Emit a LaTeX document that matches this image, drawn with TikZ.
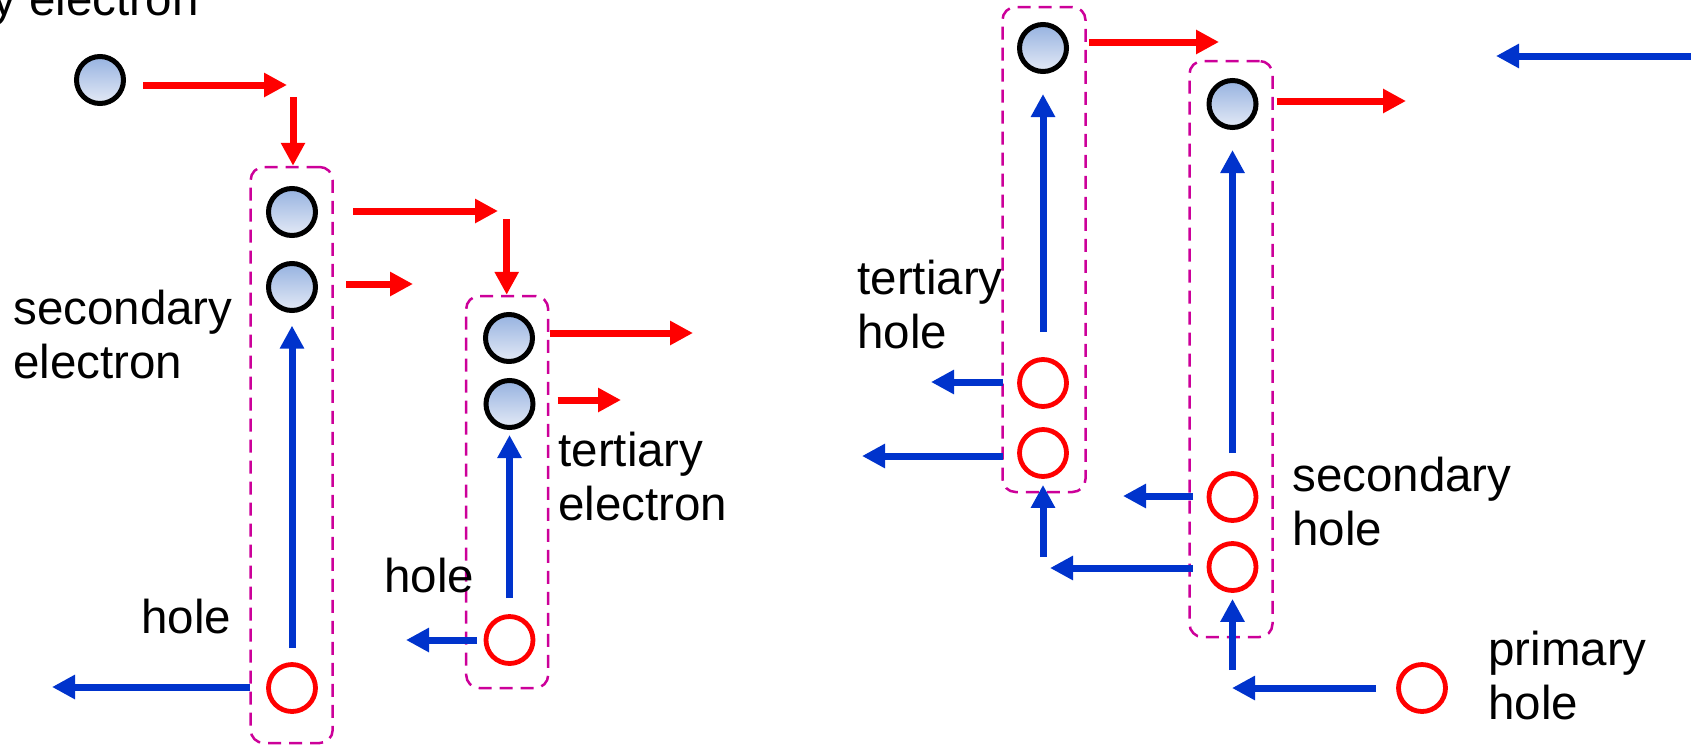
\documentclass[tikz,border=0pt]{standalone}
\usepackage{fontspec}
\setmainfont{Liberation Sans}
\usetikzlibrary{arrows.meta}
\definecolor{ered}{RGB}{255,0,0}
\definecolor{hblue}{RGB}{0,51,204}
\definecolor{boxmag}{RGB}{204,0,153}
\definecolor{etop}{RGB}{150,178,224}
\definecolor{ebot}{RGB}{228,234,246}
\begin{document}
\begin{tikzpicture}[x=0.5pt,y=-0.5pt,
  elec/.style={circle, draw=black, line width=2.5pt, minimum size=23.5pt, inner sep=0pt, top color=etop, bottom color=ebot},
  hole/.style={circle, draw=ered, line width=2.4pt, minimum size=23.5pt, inner sep=0pt, fill=white},
  dbox/.style={draw=boxmag, line width=1.25pt, dash pattern=on 6.5pt off 4pt, rounded corners=6.5pt, inner sep=0pt},
  rarr/.style={draw=ered, line width=3.5pt, -{Triangle[length=11.5pt,width=11.5pt]}},
  barr/.style={draw=hblue, line width=3.5pt, -{Triangle[length=11.5pt,width=11.5pt]}},
  lbl/.style={font=\fontsize{23.75}{27}\selectfont, inner sep=0pt, align=left, anchor=base west}
]
\useasboundingbox (0,0) rectangle (1691,745);

% dashed boxes
\node[dbox, minimum width=41pt, minimum height=288pt] (b1) at (291.7,455) {};
\node[dbox, minimum width=41pt, minimum height=196pt] (b2) at (507.2,492) {};
\node[dbox, minimum width=41.5pt, minimum height=242.5pt] (b3) at (1044,249.5) {};
\node[dbox, minimum width=41.5pt, minimum height=288pt] (b4) at (1231,349) {};

% particles
\node[elec] (e0) at (100,80) {};
\node[elec] (e1a) at (292,212) {};
\node[elec] (e1b) at (292,287) {};
\node[hole] (h1) at (292,688) {};
\node[elec] (e2a) at (509,338) {};
\node[elec] (e2b) at (509.5,404) {};
\node[hole] (h2) at (509.5,640) {};
\node[elec] (e3a) at (1043,48) {};
\node[hole] (h3a) at (1043,383) {};
\node[hole] (h3b) at (1043,453) {};
\node[elec] (e4a) at (1232.5,104) {};
\node[hole] (h4a) at (1232.5,497) {};
\node[hole] (h4b) at (1232.5,567) {};
\node[hole] (hp) at (1422,688) {};

% free ends
\coordinate (r1) at (287,85);
\coordinate (k1) at (293,97);
\coordinate (r3) at (498,211);
\coordinate (k2) at (506.7,219);
\coordinate (r5) at (413,284);
\coordinate (r6) at (693,333);
\coordinate (r7) at (621,400);
\coordinate (r8) at (1219,42);
\coordinate (r9) at (1406,101);
\coordinate (l2) at (52,687);
\coordinate (l4) at (406,640);
\coordinate (l6) at (931,382);
\coordinate (l7) at (862,456);
\coordinate (k3) at (1043,557);
\coordinate (l10) at (1123,496);
\coordinate (l11) at (1050,568);
\coordinate (k4) at (1232.5,670);
\coordinate (l13) at (1232,688);
\coordinate (t1) at (1691,56);
\coordinate (l14) at (1496,56);

% red arrows
\draw[rarr, shorten <=8.5pt] (e0.east |- r1) -- (r1);
\draw[rarr] (k1) -- (k1 |- b1.north);
\draw[rarr, shorten <=17.5pt] (e1a.east |- r3) -- (r3);
\draw[rarr] (k2) -- (k2 |- b2.north);
\draw[rarr, shorten <=14pt] (e1b.east |- r5) -- (r5);
\draw[rarr, shorten <=7.5pt] (e2a.east |- r6) -- (r6);
\draw[rarr, shorten <=11pt] (e2b.east |- r7) -- (r7);
\draw[rarr, shorten <=10pt] (e3a.east |- r8) -- (r8);
\draw[rarr, shorten <=9pt] (e4a.east |- r9) -- (r9);

% blue arrows
\draw[barr, shorten <=7pt, shorten >=6.3pt] (h1.north) -- (e1b.south);
\draw[barr, shorten <=8pt] (h1.west |- l2) -- (l2);
\draw[barr, shorten <=8pt, shorten >=2.5pt] (h2.north) -- (e2b.south);
\draw[barr, shorten <=3.25pt] (h2.west |- l4) -- (l4);
\draw[barr, shorten <=12.5pt, shorten >=10pt] (h3a.north) -- (e3a.south);
\draw[barr, shorten <=7pt] (h3a.west |- l6) -- (l6);
\draw[barr, shorten <=7pt] (h3b.west |- l7) -- (l7);
\draw[barr, shorten >=3pt] (k3) -- (k3 |- h3b.south);
\draw[barr, shorten <=9pt, shorten >=10pt] (h4a.north) -- (e4a.south);
\draw[barr, shorten <=6.75pt] (h4a.west |- l10) -- (l10);
\draw[barr, shorten <=7pt] (h4b.west |- l11) -- (l11);
\draw[barr, shorten >=3pt] (k4) -- (k4 |- h4b.south);
\draw[barr, shorten <=10pt] (hp.west |- l13) -- (l13);
\draw[barr] (t1) -- (l14);

% labels (multi-line: anchor at baseline of last line)
\node[lbl, anchor=base east, align=right] (tpe) at (199,15) {primary electron};
\node[lbl] (tse) at (13,378) {secondary\\electron};
\node[lbl] (th1) at (141,633) {hole};
\node[lbl] (th2) at (384,592) {hole};
\node[lbl] (tte) at (558,520) {tertiary\\electron};
\node[lbl] (tth) at (857,348) {tertiary\\hole};
\node[lbl] (tsh) at (1292,545) {secondary\\hole};
\node[lbl] (tph) at (1488,719) {primary\\hole};
\end{tikzpicture}
\end{document}
